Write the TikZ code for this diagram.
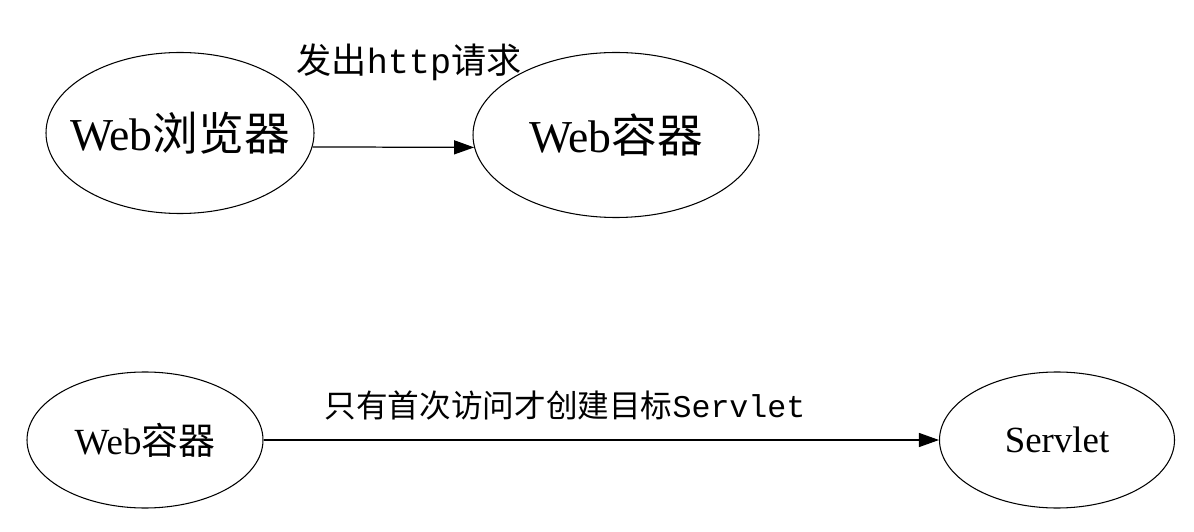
\documentclass[tikz,border=0pt]{standalone}
\usepackage{fontspec}
\setmainfont{Liberation Serif}
\setmonofont{Liberation Mono}
\newfontfamily\cjk{Noto Sans CJK SC}
\usetikzlibrary{arrows.meta, shapes.geometric, positioning}
\tikzset{
  stage/.style={draw, ellipse, line width=0.6pt, inner sep=-0.5cm},
  flow/.style={-{Triangle[length=4mm, width=2.8mm]}, line width=0.7pt},
  biglabel/.style={font=\fontsize{26}{30}\selectfont},
  smalllabel/.style={font=\fontsize{21}{25}\selectfont},
}

\begin{document}
\begin{tikzpicture}
  \useasboundingbox (0,0) rectangle (23.88,10.62);
  % browser sends the request
  \node[stage, biglabel, minimum width=5.36cm, minimum height=3.22cm] (browser) at (3.60,7.96) {Web{\cjk 浏览器}};
  \node[stage, biglabel, minimum width=5.72cm, minimum height=3.30cm] (webtop) at (12.32,7.92) {Web{\cjk 容器}};
  \draw[flow] (browser.-6) -- (webtop.185);
  \node[font=\fontsize{20}{24}\selectfont] (reqtext) at (8.18,9.38) {{\cjk 发出}{\ttfamily http}{\cjk 请求}};

  % container creates the servlet
  \node[stage, smalllabel, minimum width=4.72cm, minimum height=2.72cm] (webbot) at (2.90,1.82) {Web{\cjk 容器}};
  \node[stage, smalllabel, minimum width=4.70cm, minimum height=2.72cm] (servlet) at (21.14,1.82) {Servlet};
  \draw[flow] (webbot) -- (servlet);
  \node[font=\fontsize{18}{22}\selectfont] (createtext) at (11.30,2.52) {{\cjk 只有首次访问才创建目标}{\ttfamily Servlet}};
\end{tikzpicture}
\end{document}
